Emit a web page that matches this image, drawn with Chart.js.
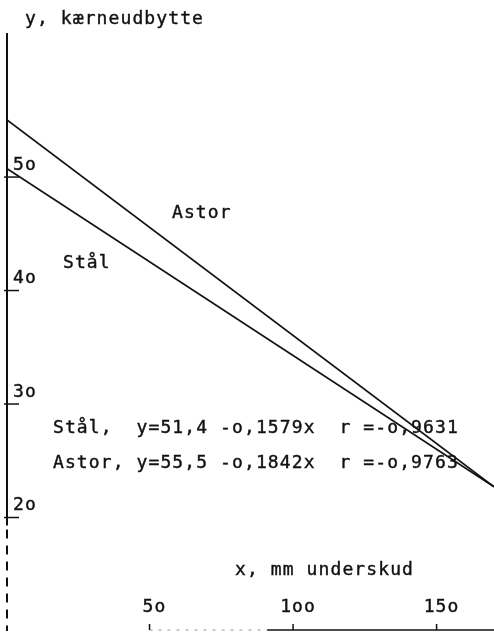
<!DOCTYPE html>
<html>
<head>
<meta charset="utf-8">
<script src="https://cdn.jsdelivr.net/npm/chart.js@4/dist/chart.umd.min.js"></script>
<style>
  html, body { margin: 0; padding: 0; background: #fff; }
  #wrap { width: 494px; height: 634px; }
</style>
</head>
<body>
<div id="wrap"><canvas id="chart" width="494" height="634"></canvas></div>
<script>
// values
const xEnds = [0, 170];
const astorY = [55.1, 22.7];
const staalY = [50.8, 22.7];

const yTicks = [20, 30, 40, 50];
const yTickLabels = ['2o', '3o', '4o', '5o'];
const xTicks = [50, 100, 150];
const xTickLabels = ['5o', '1oo', '15o'];

const FONT = '18px "DejaVu Sans Mono", "Liberation Mono", monospace';
const INK = '#111';

function txt(ctx, s, x, y, align) {
  ctx.save();
  ctx.font = FONT;
  ctx.letterSpacing = '1.1px';
  ctx.fillStyle = INK;
  ctx.strokeStyle = INK;
  ctx.lineWidth = 0.4;
  ctx.textBaseline = 'middle';
  ctx.textAlign = align || 'left';
  ctx.fillText(s, x, y);
  ctx.strokeText(s, x, y);
  ctx.restore();
}

// hand-drawn looking axes, tick marks and typed text
const paperAxes = {
  id: 'paperAxes',
  afterDraw(chart) {
    const { ctx, scales: { x, y } } = chart;
    const ax = x.getPixelForValue(0) + 1;
    const yTop = y.getPixelForValue(62.7);
    const yDash = y.getPixelForValue(19.3);
    const yBot = y.getPixelForValue(10);

    ctx.save();
    ctx.strokeStyle = INK;
    // y axis, solid part
    ctx.lineWidth = 2;
    ctx.beginPath();
    ctx.moveTo(ax, yTop);
    ctx.lineTo(ax, yDash);
    ctx.stroke();
    // y axis, broken part below 20
    ctx.setLineDash([9, 7]);
    ctx.beginPath();
    ctx.moveTo(ax, yDash + 4);
    ctx.lineTo(ax, yBot);
    ctx.stroke();
    ctx.setLineDash([]);

    // y tick marks + labels
    ctx.lineWidth = 1.5;
    yTicks.forEach((v, i) => {
      const py = y.getPixelForValue(v);
      ctx.beginPath();
      ctx.moveTo(ax - 3, py);
      ctx.lineTo(ax + 12, py);
      ctx.stroke();
      txt(ctx, yTickLabels[i], ax + 6, py - 12);
    });

    // x axis along the bottom edge
    const xb = yBot - 1;
    ctx.strokeStyle = '#999';
    ctx.lineWidth = 1;
    ctx.setLineDash([3, 6]);
    ctx.beginPath();
    ctx.moveTo(x.getPixelForValue(50), xb);
    ctx.lineTo(x.getPixelForValue(91), xb);
    ctx.stroke();
    ctx.setLineDash([]);
    ctx.strokeStyle = INK;
    ctx.lineWidth = 1.5;
    ctx.beginPath();
    ctx.moveTo(x.getPixelForValue(91), xb);
    ctx.lineTo(x.getPixelForValue(170), xb);
    ctx.stroke();
    xTicks.forEach((v, i) => {
      const px = x.getPixelForValue(v);
      ctx.beginPath();
      ctx.moveTo(px, xb);
      ctx.lineTo(px, xb - 6);
      ctx.stroke();
      txt(ctx, xTickLabels[i], px + 5, xb - 23, 'center');
    });
    ctx.restore();

    txt(ctx, 'y, kærneudbytte', 25, 19);
    txt(ctx, 'x, mm underskud', 235, 570);
    txt(ctx, 'Astor', 172, 213);
    txt(ctx, 'Stål', 63, 263);
    txt(ctx, 'Stål,  y=51,4 -o,1579x  r =-o,9631', 53, 428);
    txt(ctx, 'Astor, y=55,5 -o,1842x  r =-o,9763', 53, 463);
  }
};

const toPts = (ys) => xEnds.map((xv, i) => ({ x: xv, y: ys[i] }));

new Chart(document.getElementById('chart'), {
  type: 'line',
  data: {
    datasets: [
      { label: 'Astor', data: toPts(astorY), borderColor: INK, borderWidth: 1.7, pointRadius: 0, fill: false },
      { label: 'Stål', data: toPts(staalY), borderColor: INK, borderWidth: 1.7, pointRadius: 0, fill: false }
    ]
  },
  options: {
    responsive: false,
    animation: false,
    layout: { padding: { left: 6, right: 0, top: 0, bottom: 3 } },
    plugins: { legend: { display: false }, tooltip: { enabled: false } },
    scales: {
      x: { type: 'linear', min: 0, max: 170, display: false },
      y: { type: 'linear', min: 10, max: 65.6, display: false }
    }
  },
  plugins: [paperAxes]
});
</script>
</body>
</html>
